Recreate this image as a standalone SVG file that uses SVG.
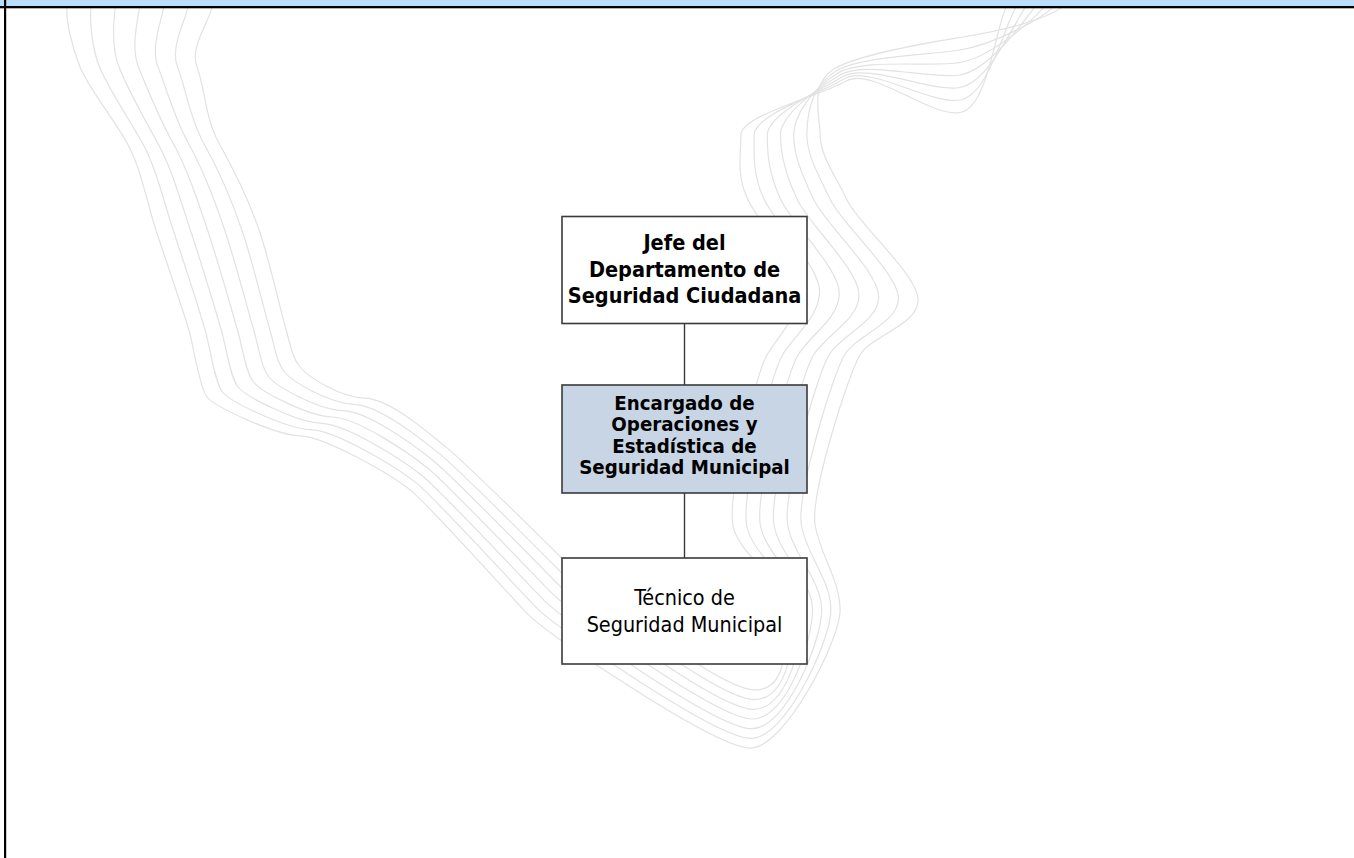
<svg xmlns="http://www.w3.org/2000/svg" width="1354" height="858" viewBox="0 0 1354 858">
<style>
.bg{fill:#ffffff}
.wave{fill:none;stroke:#e2e2e2;stroke-width:1.2}
.box{stroke:#3a3a3a;stroke-width:1.6}
.plain{fill:#ffffff}
.hl{fill:#c8d5e5}
.conn{stroke:#3a3a3a;stroke-width:1.4;fill:none}
.tb{font-family:"DejaVu Sans Condensed","DejaVu Sans",Tahoma,sans-serif;font-weight:bold;fill:#000;text-anchor:middle}
.tr{font-family:"DejaVu Sans Condensed","DejaVu Sans",Tahoma,sans-serif;fill:#000;text-anchor:middle}
</style>
<rect class="bg" x="0" y="0" width="1354" height="858"/>
<g id="background-waves" class="wave">
<path d="M67.1,4 C65.1,19 72,47 80,67 S113.1,118 127.1,143 S146.9,203 156.9,233 S183.9,313 188.9,330 S199,387 207,397 S275.1,434.9 300.1,435.9 S390.1,473.9 410.1,489.9 S509.9,596.1 529.9,616.1 S715.1,748.1 750.1,748.1 S840.1,640 840.1,610 S820.1,555 815.1,525 S848,375 860,355 S918.1,325.1 918.1,300.1 S859,225 847,200 S820.1,155 820.1,135 S809,84 834,69 S930,42.5 960,37.5 S1055,20 1070,0"/>
<path d="M91.4,4 C89.4,19 91.5,47 99.5,67 S128.4,118 142.4,143 S164.1,203 174.1,233 S200.1,313 205.1,330 S214.5,382 222.5,392 S285.9,428.6 310.9,429.6 S395.9,466.6 415.9,482.6 S517.4,588.6 537.4,608.6 S715.9,738.4 750.9,738.4 S830.9,640 830.9,610 S806.4,555 801.4,525 S832.5,375 844.5,355 S898.4,323.4 898.4,298.4 S842.5,225 830.5,200 S806.9,155 806.9,135 S811,86 836,71 S930,55 960,50 S1045,20 1060,0"/>
<path d="M115.7,4 C113.7,19 111,47 119,67 S143.7,118 157.7,143 S181.3,203 191.3,233 S216.3,313 221.3,330 S230,377 238,387 S296.7,422.3 321.7,423.3 S401.7,459.3 421.7,475.3 S524.9,581.1 544.9,601.1 S716.7,728.7 751.7,728.7 S821.7,640 821.7,610 S792.7,555 787.7,525 S817,375 829,355 S878.7,321.7 878.7,296.7 S826,225 814,200 S793.7,155 793.7,135 S813,88 838,73 S930,67.5 960,62.5 S1035,20 1050,0"/>
<path d="M140,4 C138,19 130.5,47 138.5,67 S159,118 173,143 S198.5,203 208.5,233 S232.5,313 237.5,330 S245.5,372 253.5,382 S307.5,416 332.5,417 S407.5,452 427.5,468 S532.4,573.6 552.4,593.6 S717.5,719 752.5,719 S812.5,640 812.5,610 S779,555 774,525 S801.5,375 813.5,355 S859,320 859,295 S809.5,225 797.5,200 S780.5,155 780.5,135 S815,90 840,75 S930,80 960,75 S1025,20 1040,0"/>
<path d="M164.3,4 C162.3,19 150,47 158,67 S174.3,118 188.3,143 S215.7,203 225.7,233 S248.7,313 253.7,330 S261,367 269,377 S318.3,409.7 343.3,410.7 S413.3,444.7 433.3,460.7 S539.9,566.1 559.9,586.1 S718.3,709.3 753.3,709.3 S803.3,640 803.3,610 S765.3,555 760.3,525 S786,375 798,355 S839.3,318.3 839.3,293.3 S793,225 781,200 S767.3,155 767.3,135 S817,92 842,77 S930,92.5 960,87.5 S1015,20 1030,0"/>
<path d="M188.6,4 C186.6,19 169.5,47 177.5,67 S189.6,118 203.6,143 S232.9,203 242.9,233 S264.9,313 269.9,330 S276.5,362 284.5,372 S329.1,403.4 354.1,404.4 S419.1,437.4 439.1,453.4 S547.4,558.6 567.4,578.6 S719.1,699.6 754.1,699.6 S794.1,640 794.1,610 S751.6,555 746.6,525 S770.5,375 782.5,355 S819.6,316.6 819.6,291.6 S776.5,225 764.5,200 S754.1,155 754.1,135 S819,94 844,79 S930,105 960,100 S1005,20 1020,0"/>
<path d="M212.9,4 C210.9,19 189,47 197,67 S204.9,118 218.9,143 S250.1,203 260.1,233 S281.1,313 286.1,330 S292,357 300,367 S339.9,397.1 364.9,398.1 S424.9,430.1 444.9,446.1 S554.9,551.1 574.9,571.1 S719.9,689.9 754.9,689.9 S784.9,640 784.9,610 S737.9,555 732.9,525 S755,375 767,355 S799.9,314.9 799.9,289.9 S760,225 748,200 S740.9,155 740.9,135 S821,96 846,81 S930,117.5 960,112.5 S995,20 1010,0"/>
</g>
<g id="frame">
<rect x="0" y="0" width="1354" height="6.5" fill="#badcfd"/>
<rect x="0" y="6" width="1354" height="2.3" fill="#000"/>
<rect x="4" y="0" width="2.2" height="858" fill="#000"/>
</g>
<g id="connectors" class="conn">
<line x1="684.5" y1="323.5" x2="684.5" y2="385"/>
<line x1="684.5" y1="493" x2="684.5" y2="558"/>
</g>
<g id="node-jefe">
<rect class="box plain" x="562" y="216.5" width="245" height="107"/>
<text class="tb" x="684.5" font-size="21.5"><tspan x="684.5" y="250">Jefe del</tspan><tspan x="684.5" y="276.7">Departamento de</tspan><tspan x="684.5" y="303.3">Seguridad Ciudadana</tspan></text>
</g>
<g id="node-encargado">
<rect class="box hl" x="562" y="385" width="245" height="108"/>
<text class="tb" x="684.5" font-size="20.3"><tspan x="684.5" y="409.5">Encargado de</tspan><tspan x="684.5" y="431">Operaciones y</tspan><tspan x="684.5" y="452.5">Estadística de</tspan><tspan x="684.5" y="474">Seguridad Municipal</tspan></text>
</g>
<g id="node-tecnico">
<rect class="box plain" x="562" y="558" width="245" height="106"/>
<text class="tr" x="684.5" font-size="21.4"><tspan x="684.5" y="604.5">Técnico de</tspan><tspan x="684.5" y="632.2">Seguridad Municipal</tspan></text>
</g>
</svg>
